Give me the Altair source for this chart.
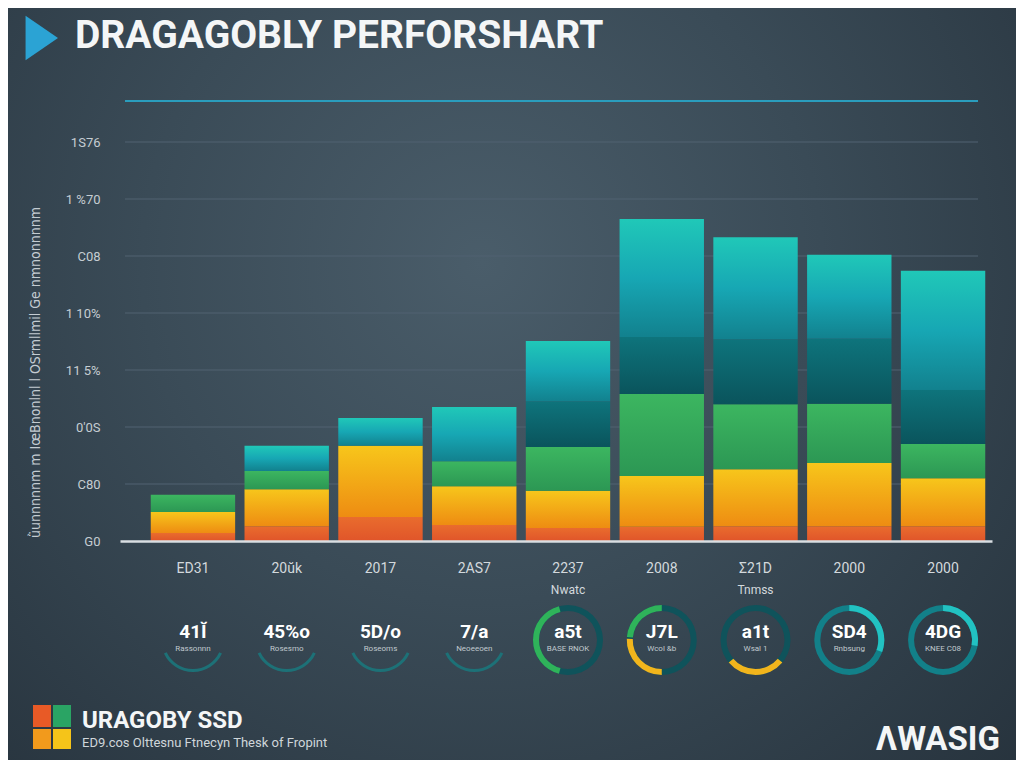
import json
import altair as alt
import pandas as pd

# ---------------- data ----------------
x_labels = ["ED31", "20ŭk", "2017", "2AS7", "2237", "2008", "Σ21D", "2000", "2000"]
x_sub_idx = [4, 6]
x_sub_text = ["Nwatc", "Tnmss"]

y_tick_vals = [0, 1, 2, 3, 4, 5, 6, 7]
y_tick_labels = ["G0", "C80", "0'0S", "11 5%", "1 10%", "C08", "1 %70", "1S76"]
y_title = "ǜunnnnnm m IœBnonlnl l OSrmllmil Ge nmnonnnnm"

series_names = ["orange", "yellow", "green", "darkteal", "teal"]
orange = [0.14, 0.26, 0.42, 0.28, 0.23, 0.25, 0.26, 0.26, 0.26]
yellow = [0.37, 0.65, 1.25, 0.68, 0.65, 0.89, 1.00, 1.11, 0.84]
green = [0.30, 0.32, 0.00, 0.44, 0.77, 1.44, 1.14, 1.04, 0.60]
darkteal = [0.00, 0.00, 0.00, 0.00, 0.80, 1.00, 1.14, 1.14, 0.95]
teal = [0.00, 0.44, 0.49, 0.95, 1.06, 2.07, 1.79, 1.47, 2.09]

ring_big = ["41Ĭ", "45%o", "5D/o", "7/a", "a5t", "J7L", "a1t", "SD4", "4DG"]
ring_small = ["Rassonnn", "Rosesmo", "Roseoms", "Neoeeoen", "BASE RNOK",
              "Wcol &b", "Wsal 1", "Rnbsung", "KNEE C08"]

arc_ring = [0, 1, 2, 3, 4, 5, 6, 7, 8, 4, 5, 5, 6, 7, 8]
arc_start = [115, 115, 115, 115, 0, 0, 0, 0, 0, 195, 275, 180, 130, 0, 0]
arc_end = [245, 245, 245, 245, 360, 360, 360, 360, 360, 345, 360, 272, 230, 110, 100]
arc_kind = ["faint"] * 4 + ["ring", "ring", "ring", "ring2", "ring2",
                            "green", "green", "yellow", "yellow", "teal", "teal"]

title_text = "DRAGAGOBLY PERFORSHART"
footer_brand = "URAGOBY SSD"
footer_sub = "ED9.cos Olttesnu Ftnecyn Thesk of Fropint"
footer_right = "ΛWASIG"

# ---------------- tables ----------------
series_vals = [orange, yellow, green, darkteal, teal]
rows = []
for i in range(len(x_labels)):
    for k, (name, vals) in enumerate(zip(series_names, series_vals)):
        rows.append({"idx": i, "series": name, "order": k, "value": vals[i]})
bars_df = pd.DataFrame(rows)

rings_df = pd.DataFrame({"idx": list(range(len(ring_big))), "big": ring_big, "small": ring_small})
arcs_df = pd.DataFrame({"idx": arc_ring, "a0": arc_start, "a1": arc_end, "kind": arc_kind})
sub_df = pd.DataFrame({"idx": x_sub_idx, "t": x_sub_text})
grid_df = pd.DataFrame({"v": y_tick_vals[1:]})

W, H = 872, 456
PAD = {"left": 112, "top": 77, "right": 24, "bottom": 219}


def lin(c0, c1, mid=None):
    stops = [alt.GradientStop(color=c0, offset=0)]
    if mid:
        stops.append(alt.GradientStop(color=mid, offset=0.5))
    stops.append(alt.GradientStop(color=c1, offset=1))
    return alt.LinearGradient(gradient="linear", stops=stops, x1=0, x2=0, y1=1, y2=0)


fills = {
    "orange": lin("#e0552a", "#e96c2d"),
    "yellow": lin("#ee8c12", "#f7c61b"),
    "green": lin("#2c9754", "#3cb660"),
    "darkteal": lin("#0a545c", "#0e747c"),
    "teal": lin("#12818e", "#20c8b8", "#17a7b4"),
}

xscale = alt.Scale(paddingInner=0.1, paddingOuter=0.2, align=0.82)
xaxis = alt.Axis(
    title=None, labelExpr=f"{json.dumps(x_labels, ensure_ascii=False)}[datum.value]",
    labelColor="#d3d9dd", labelFontSize=14, labelFont="Roboto", labelPadding=20,
    labelAngle=0, ticks=False, domainColor="#d9dee2", domainWidth=2.5, grid=False, zindex=1,
)
X = alt.X("idx:O", scale=xscale, axis=xaxis)

yscale = alt.Scale(domain=[0, 8], nice=False, zero=True)
yaxis = alt.Axis(
    values=y_tick_vals, labelExpr=f"{json.dumps(y_tick_labels)}[datum.value]",
    title=y_title, titleX=-85, titleY=287, titleAngle=270, titleAlign="center",
    titleBaseline="middle", titleColor="#c4ccd2", titleFontSize=14, titleFont="DejaVu Sans Condensed",
    titleFontWeight="normal", labelColor="#c5cdd2", labelFontSize=13, labelFont="Roboto",
    labelPadding=20, ticks=False, domain=False, grid=False, zindex=1,
)

# background
bg = alt.Chart(pd.DataFrame({"a": [0]})).mark_rect(
    fill=alt.RadialGradient(
        gradient="radial",
        stops=[alt.GradientStop(color="#4a5d6a", offset=0),
               alt.GradientStop(color="#3a4b57", offset=0.45),
               alt.GradientStop(color="#26323c", offset=1)],
        x1=0.47, y1=0.38, x2=0.47, y2=0.38, r1=0, r2=0.75,
    )
).encode(x=alt.value(-PAD["left"]), x2=alt.value(W + PAD["right"]),
         y=alt.value(-PAD["top"]), y2=alt.value(H + PAD["bottom"]))

grid = alt.Chart(grid_df).mark_rule(color="#506370", strokeWidth=1.5, opacity=0.7).encode(
    y=alt.Y("v:Q", scale=yscale, axis=yaxis), x=alt.value(5), x2=alt.value(858)
)

top_rule = alt.Chart(pd.DataFrame({"a": [0]})).mark_rule(color="#2a9dbd", strokeWidth=2).encode(
    x=alt.value(5), x2=alt.value(858), y=alt.value(16)
)

stack_base = alt.Chart(bars_df).transform_stack(
    stack="value", groupby=["idx"], sort=[alt.SortField("order", order="ascending")],
    as_=["y0", "y1"],
)
bar_layers = [
    stack_base.transform_filter(alt.datum.series == s).mark_bar(fill=fills[s]).encode(
        x=X, y=alt.Y("y0:Q", scale=yscale, axis=yaxis), y2="y1:Q"
    )
    for s in series_names
]

sub_labels = alt.Chart(sub_df).mark_text(
    color="#d3d9dd", fontSize=12, font="Roboto", baseline="middle"
).encode(x=X, y=alt.value(505), text="t:N")

arc_color = alt.Color(
    "kind:N",
    scale=alt.Scale(domain=["faint", "ring", "ring2", "green", "yellow", "teal"],
                    range=["#1d7177", "#0f535b", "#128089", "#2fb35a", "#f2b51c", "#22c2c2"]),
    legend=None,
)
arc_base = alt.Chart(arcs_df).transform_calculate(
    t0="datum.a0 * PI / 180", t1="datum.a1 * PI / 180"
)
faint_arcs = arc_base.transform_filter(alt.datum.kind == "faint").mark_arc(
    radius=32, radius2=29
).encode(x=X, y=alt.value(555), theta=alt.Theta("t0:Q", scale=None), theta2="t1:Q", color=arc_color)
thick_arcs = arc_base.transform_filter(alt.datum.kind != "faint").mark_arc(
    radius=35, radius2=29
).encode(x=X, y=alt.value(555), theta=alt.Theta("t0:Q", scale=None), theta2="t1:Q", color=arc_color)

ring_big_t = alt.Chart(rings_df).mark_text(
    color="#ffffff", fontSize=19, fontWeight="bold", font="Roboto", baseline="middle"
).encode(x=X, y=alt.value(547), text="big:N")
ring_small_t = alt.Chart(rings_df).mark_text(
    color="#c0c9ce", fontSize=8, font="Roboto", baseline="middle"
).encode(x=X, y=alt.value(564), text="small:N")

one = pd.DataFrame({"a": [0]})
title_t = alt.Chart(pd.DataFrame({"t": [title_text]})).mark_text(
    color="#f4f6f7", fontSize=39, fontWeight="bold", font="Roboto", align="left",
    baseline="alphabetic"
).encode(x=alt.value(-45), y=alt.value(-37), text="t:N")
play = alt.Chart(one).mark_point(
    shape="M-0.6,-1L0.85,0L-0.6,1Z", filled=True, color="#2ba3d4", opacity=1, size=2000
).encode(x=alt.value(-81), y=alt.value(-47))

logo_cols = ["#e85a26", "#2aa464", "#f29a1c", "#f5c419"]
logo_boxes = [(-87, -69, 620, 642), (-67, -49, 620, 642), (-87, -69, 644, 664), (-67, -49, 644, 664)]
logo = [
    alt.Chart(one).mark_rect(color=c).encode(
        x=alt.value(b[0]), x2=alt.value(b[1]), y=alt.value(b[2]), y2=alt.value(b[3])
    )
    for c, b in zip(logo_cols, logo_boxes)
]
brand_t = alt.Chart(pd.DataFrame({"t": [footer_brand]})).mark_text(
    color="#f4f6f7", fontSize=24, fontWeight="bold", font="Roboto", align="left",
    baseline="alphabetic"
).encode(x=alt.value(-38), y=alt.value(643), text="t:N")
sub_t = alt.Chart(pd.DataFrame({"t": [footer_sub]})).mark_text(
    color="#cfd6da", fontSize=13, font="Roboto", align="left", baseline="middle"
).encode(x=alt.value(-38), y=alt.value(658), text="t:N")
right_t = alt.Chart(pd.DataFrame({"t": [footer_right]})).mark_text(
    color="#f4f6f7", fontSize=33, fontWeight="bold", font="Roboto", align="right",
    baseline="alphabetic"
).encode(x=alt.value(880), y=alt.value(665), text="t:N")

chart = alt.layer(
    bg, grid, top_rule, *bar_layers, sub_labels, faint_arcs, thick_arcs, ring_big_t,
    ring_small_t, title_t, play, *logo, brand_t, sub_t, right_t
).properties(
    width=W, height=H, autosize=alt.AutoSizeParams(type="none"), padding=PAD
).configure(background="#2e3c47").configure_view(stroke=None)

chart.save("out.html", embed_options={"renderer": "svg", "actions": False})
